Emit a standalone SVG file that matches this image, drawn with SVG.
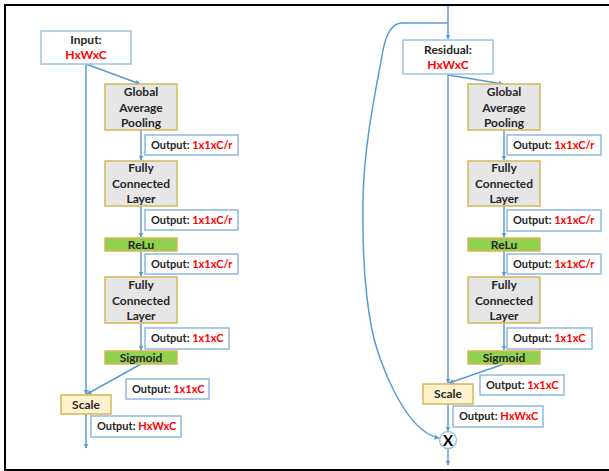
<svg xmlns="http://www.w3.org/2000/svg" width="609" height="471" viewBox="0 0 609 471">
<defs>
<marker id="ah" viewBox="0 0 10 10" refX="9" refY="5" markerWidth="5" markerHeight="5" orient="auto" markerUnits="userSpaceOnUse">
<path d="M0,0 L10,5 L0,10 z" fill="#5b9bd5"/>
</marker>
<style>
.io{fill:#fff;stroke:#9dc3e6;stroke-width:1.5}
.out{fill:#fff;stroke:#8fb9e3;stroke-width:1.5}
.gray{fill:#e7e6e6;stroke:#d6b656;stroke-width:1.5}
.green{fill:#92d050;stroke:#d6b656;stroke-width:1.5}
.scale{fill:#fff2cc;stroke:#d6b656;stroke-width:1.5}
text{font-family:Lato,"Liberation Sans",sans-serif;font-weight:bold;fill:#262626}
.n{font-size:12px;text-anchor:middle}
.o{font-size:11px}
.r{fill:#ff0000}
.c{fill:none;stroke:#5b9bd5;stroke-width:1.5;marker-end:url(#ah)}
</style>
</defs>
<path d="M5,4 V470 H609 M4,5 H609" fill="none" stroke="#000" stroke-width="2"/>

<g id="connectors">
<path class="c" d="M86,64 V394"/>
<path class="c" d="M86,64 L140,84"/>
<path class="c" d="M141,130 V160"/>
<path class="c" d="M141,206 V237"/>
<path class="c" d="M141,251 V276"/>
<path class="c" d="M141,323 V350"/>
<path class="c" d="M141,364 L87,394"/>
<path class="c" d="M86,414 V448"/>

<path class="c" d="M448,6 V39"/>
<path class="c" d="M448,23 H402 C392,23 386,35 383,50 C378,80 364,140 363,200 C362,260 366,300 372,330 C378,360 405,432 439,438"/>
<path class="c" d="M448,74 V383"/>
<path class="c" d="M448,75 L503,84"/>
<path class="c" d="M504,130 V160"/>
<path class="c" d="M504,206 V237"/>
<path class="c" d="M504,251 V276"/>
<path class="c" d="M504,323 V350"/>
<path class="c" d="M504,364 L449,383"/>
<path class="c" d="M448,404 V431"/>
<path class="c" d="M448,448.5 V465"/>
</g>

<g id="input">
<rect class="io" x="41" y="31" width="90" height="33"/>
<text class="n" x="86" y="44">Input:</text>
<text class="n r" x="86" y="59">HxWxC</text>
</g>
<g id="gap1">
<rect class="gray" x="105" y="84" width="72" height="46"/>
<text class="n" x="141" y="96">Global</text>
<text class="n" x="141" y="112">Average</text>
<text class="n" x="141" y="127">Pooling</text>
</g>
<g id="out1a"><rect class="out" x="145" y="135" width="93" height="20"/><text class="o" x="151" y="149">Output: <tspan class="r">1x1xC/r</tspan></text></g>
<g id="fc1a">
<rect class="gray" x="105" y="161" width="72" height="45"/>
<text class="n" x="141" y="172">Fully</text>
<text class="n" x="141" y="188">Connected</text>
<text class="n" x="141" y="203">Layer</text>
</g>
<g id="out2a"><rect class="out" x="145" y="210" width="93" height="20"/><text class="o" x="151" y="224">Output: <tspan class="r">1x1xC/r</tspan></text></g>
<g id="relu1"><rect class="green" x="105" y="238" width="72" height="13"/><text class="n" x="141" y="249">ReLu</text></g>
<g id="out3a"><rect class="out" x="145" y="254" width="93" height="20"/><text class="o" x="151" y="268">Output: <tspan class="r">1x1xC/r</tspan></text></g>
<g id="fc2a">
<rect class="gray" x="105" y="277" width="72" height="46"/>
<text class="n" x="141" y="289">Fully</text>
<text class="n" x="141" y="305">Connected</text>
<text class="n" x="141" y="320">Layer</text>
</g>
<g id="out4a"><rect class="out" x="145" y="328" width="84" height="21"/><text class="o" x="151" y="342">Output: <tspan class="r">1x1xC</tspan></text></g>
<g id="sigmoid1"><rect class="green" x="105" y="351" width="72" height="13"/><text class="n" x="141" y="362">Sigmoid</text></g>
<g id="out5a"><rect class="out" x="126" y="379" width="83" height="20"/><text class="o" x="132" y="393">Output: <tspan class="r">1x1xC</tspan></text></g>
<g id="scale1"><rect class="scale" x="61" y="395" width="50" height="19"/><text class="n" x="86" y="409">Scale</text></g>
<g id="out6a"><rect class="out" x="91" y="416" width="90" height="21"/><text class="o" x="97" y="430">Output: <tspan class="r">HxWxC</tspan></text></g>

<g id="residual">
<rect class="io" x="403" y="40" width="90" height="34"/>
<text class="n" x="448" y="54">Residual:</text>
<text class="n r" x="448" y="69">HxWxC</text>
</g>
<g id="gap2">
<rect class="gray" x="468" y="84" width="72" height="46"/>
<text class="n" x="504" y="96">Global</text>
<text class="n" x="504" y="112">Average</text>
<text class="n" x="504" y="127">Pooling</text>
</g>
<g id="out1b"><rect class="out" x="507" y="135" width="94" height="20"/><text class="o" x="513" y="149">Output: <tspan class="r">1x1xC/r</tspan></text></g>
<g id="fc1b">
<rect class="gray" x="468" y="161" width="72" height="45"/>
<text class="n" x="504" y="172">Fully</text>
<text class="n" x="504" y="188">Connected</text>
<text class="n" x="504" y="203">Layer</text>
</g>
<g id="out2b"><rect class="out" x="507" y="210" width="94" height="21"/><text class="o" x="513" y="224">Output: <tspan class="r">1x1xC/r</tspan></text></g>
<g id="relu2"><rect class="green" x="468" y="238" width="72" height="13"/><text class="n" x="504" y="249">ReLu</text></g>
<g id="out3b"><rect class="out" x="507" y="254" width="94" height="20"/><text class="o" x="513" y="268">Output: <tspan class="r">1x1xC/r</tspan></text></g>
<g id="fc2b">
<rect class="gray" x="468" y="277" width="72" height="46"/>
<text class="n" x="504" y="289">Fully</text>
<text class="n" x="504" y="305">Connected</text>
<text class="n" x="504" y="320">Layer</text>
</g>
<g id="out4b"><rect class="out" x="507" y="328" width="85" height="21"/><text class="o" x="513" y="342">Output: <tspan class="r">1x1xC</tspan></text></g>
<g id="sigmoid2"><rect class="green" x="468" y="351" width="72" height="13"/><text class="n" x="504" y="362">Sigmoid</text></g>
<g id="out5b"><rect class="out" x="480" y="375" width="84" height="20"/><text class="o" x="486" y="389">Output: <tspan class="r">1x1xC</tspan></text></g>
<g id="scale2"><rect class="scale" x="423" y="384" width="50" height="20"/><text class="n" x="448" y="398">Scale</text></g>
<g id="out6b"><rect class="out" x="453" y="406" width="90" height="21"/><text class="o" x="459" y="420">Output: <tspan class="r">HxWxC</tspan></text></g>
<g id="multiply">
<circle cx="448" cy="440" r="8.5" fill="#fff" stroke="#9dc3e6" stroke-width="1.5"/>
<text x="448" y="446" text-anchor="middle" style="font-size:15px;fill:#000">X</text>
</g>
</svg>
